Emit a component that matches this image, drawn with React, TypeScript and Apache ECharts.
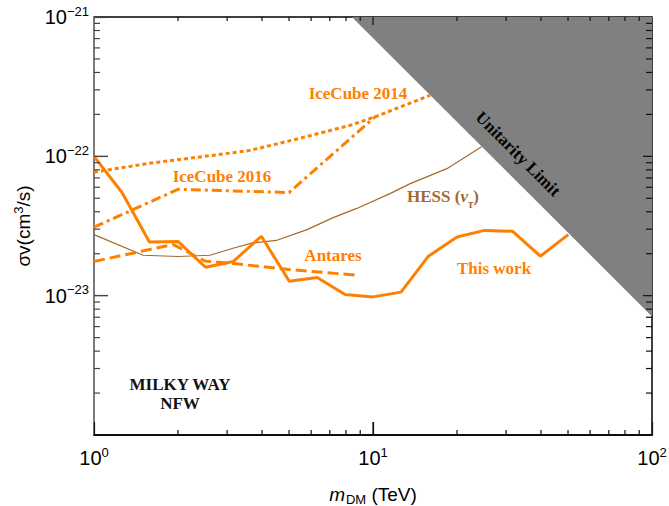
import React, { useEffect, useRef } from 'react';
import * as echarts from 'echarts';

// ---------- data (mass in TeV, <sigma v> in cm^3/s) ----------
const thisWorkMass = [1, 1.26, 1.58, 2.0, 2.51, 3.16, 3.98, 5.01, 6.31, 7.94, 10, 12.6, 15.8, 20.0, 25.1, 31.6, 39.8, 50.1];
const thisWorkSigma = [1.0e-22, 5.5e-23, 2.43e-23, 2.45e-23, 1.6e-23, 1.76e-23, 2.67e-23, 1.27e-23, 1.35e-23, 1.02e-23, 9.8e-24, 1.06e-23, 1.92e-23, 2.64e-23, 2.94e-23, 2.9e-23, 1.92e-23, 2.74e-23];

const hessMass = [1, 1.5, 2.0, 2.6, 3.15, 3.7, 4.5, 5.8, 7.2, 8.7, 11.5, 13.6, 18.4, 24.5];
const hessSigma = [2.74e-23, 1.95e-23, 1.91e-23, 1.95e-23, 2.19e-23, 2.39e-23, 2.49e-23, 2.98e-23, 3.63e-23, 4.21e-23, 5.4e-23, 6.37e-23, 8.16e-23, 1.17e-22];

const iceCube2014Mass = [1, 1.6, 2.5, 3.6, 5.5, 8.3, 10.3, 16];
const iceCube2014Sigma = [7.7e-23, 8.95e-23, 1.0e-22, 1.1e-22, 1.35e-22, 1.67e-22, 1.94e-22, 2.74e-22];

const iceCube2016Mass = [1, 2, 5, 10.2];
const iceCube2016Sigma = [3.1e-23, 5.8e-23, 5.5e-23, 1.93e-22];

const antaresMass = [1, 1.92, 2.5, 3.16, 5.0, 8.9];
const antaresSigma = [1.76e-23, 2.33e-23, 1.77e-23, 1.7e-23, 1.54e-23, 1.4e-23];

const unitarityMass = [8.4, 100];
const unitaritySigma = [1e-21, 7.1e-24];

const xRange = [1, 100];
const yRange = [1e-24, 1e-21];

// ---------- styling ----------
const ORANGE = '#FF8000';
const BROWN = '#A5692F';
const SANS = '"Liberation Sans", Arial, Helvetica, sans-serif';
const SERIF = '"Liberation Serif", "Times New Roman", serif';

const zip = (xs: number[], ys: number[]) => xs.map((x, i) => [x, ys[i]]);

// tick positions of a log axis: [value, isMajor]
const logTicks = (lo: number, hi: number) => {
  const out: number[][] = [];
  const e0 = Math.round(Math.log10(lo));
  const e1 = Math.round(Math.log10(hi));
  for (let e = e0; e < e1; e++) {
    const base = Math.pow(10, e);
    if (e > e0) out.push([base, 1]);
    for (let k = 2; k <= 9; k++) out.push([k * base, 0]);
  }
  return out;
};

const supLabel = (v: number) => {
  const e = Math.round(Math.log10(v));
  const s = e < 0 ? '\u2212' + Math.abs(e) : String(e);
  return `{b|10}{s|${s}}`;
};

const tickRich = {
  b: { fontSize: 20, fontFamily: SANS, color: '#000', lineHeight: 20, verticalAlign: 'bottom' },
  s: { fontSize: 13, fontFamily: SANS, color: '#000', lineHeight: 13, padding: [0, 0, 12, 0] },
};

const textGraphics: any[] = [
  {
    type: 'text', x: 358, y: 93, z: 100,
    style: { text: 'IceCube 2014', font: `bold 17px ${SERIF}`, fill: ORANGE, align: 'center', verticalAlign: 'middle' },
  },
  {
    type: 'text', x: 222, y: 176, z: 100,
    style: { text: 'IceCube 2016', font: `bold 17px ${SERIF}`, fill: ORANGE, align: 'center', verticalAlign: 'middle' },
  },
  {
    type: 'text', x: 333, y: 255, z: 100,
    style: { text: 'Antares', font: `bold 17px ${SERIF}`, fill: ORANGE, align: 'center', verticalAlign: 'middle' },
  },
  {
    type: 'text', x: 494, y: 268, z: 100,
    style: { text: 'This work', font: `bold 17px ${SERIF}`, fill: ORANGE, align: 'center', verticalAlign: 'middle' },
  },
  {
    type: 'text', x: 443, y: 198, z: 100,
    style: {
      text: '{a|HESS (}{n|\u03bd}{t|\u03c4}{a|)}',
      align: 'center', verticalAlign: 'middle',
      rich: {
        a: { font: `bold 17px ${SERIF}`, fill: BROWN, color: BROWN, lineHeight: 20, verticalAlign: 'top' },
        n: { font: `italic bold 17px ${SERIF}`, fill: BROWN, color: BROWN, lineHeight: 20, verticalAlign: 'top' },
        t: { font: `italic bold 12px ${SERIF}`, fill: BROWN, color: BROWN, lineHeight: 12, padding: [10, 0, 0, 0], verticalAlign: 'top' },
      },
    },
  },
  {
    type: 'text', x: 518, y: 154, z: 100, rotation: -Math.PI / 4,
    style: { text: 'Unitarity Limit', font: `bold 17px ${SERIF}`, fill: '#000', align: 'center', verticalAlign: 'middle' },
  },
  {
    type: 'text', x: 180, y: 384, z: 100,
    style: { text: 'MILKY WAY', font: `bold 17px ${SERIF}`, fill: '#111', align: 'center', verticalAlign: 'middle' },
  },
  {
    type: 'text', x: 180, y: 403, z: 100,
    style: { text: 'NFW', font: `bold 17px ${SERIF}`, fill: '#111', align: 'center', verticalAlign: 'middle' },
  },
  {
    type: 'text', x: 23, y: 226, z: 100, rotation: Math.PI / 2,
    style: {
      text: '{a|\u03c3v(cm}{s|3}{a|/s)}',
      align: 'center', verticalAlign: 'middle',
      rich: {
        a: { fontSize: 19, fontFamily: SANS, fill: '#000', color: '#000', lineHeight: 19, verticalAlign: 'bottom' },
        s: { fontSize: 13, fontFamily: SANS, fill: '#000', color: '#000', lineHeight: 13, padding: [0, 0, 10, 0] },
      },
    },
  },
  {
    type: 'text', x: 373, y: 494, z: 100,
    style: {
      text: '{i|m}{d|DM}{a| (TeV)}',
      align: 'center', verticalAlign: 'middle',
      rich: {
        i: { fontSize: 19, fontFamily: SANS, fontStyle: 'italic', fill: '#000', color: '#000', lineHeight: 19, verticalAlign: 'top' },
        a: { fontSize: 19, fontFamily: SANS, fill: '#000', color: '#000', lineHeight: 19, verticalAlign: 'top' },
        d: { fontSize: 13, fontFamily: SANS, fill: '#000', color: '#000', lineHeight: 13, padding: [8, 0, 0, 1], verticalAlign: 'top' },
      },
    },
  },
];

// grid geometry
const W = 669, H = 506;
const G = { left: 94, right: 17, top: 17, bottom: 71 };

// tick-mark decorations for all four sides of the frame (log-spaced like the axes)
const buildTicks = () => {
  const gx0 = G.left, gx1 = W - G.right, gy0 = G.top, gy1 = H - G.bottom;
  const lx0 = Math.log10(xRange[0]), lx1 = Math.log10(xRange[1]);
  const ly0 = Math.log10(yRange[0]), ly1 = Math.log10(yRange[1]);
  const toX = (v: number) => gx0 + ((Math.log10(v) - lx0) / (lx1 - lx0)) * (gx1 - gx0);
  const toY = (v: number) => gy1 - ((Math.log10(v) - ly0) / (ly1 - ly0)) * (gy1 - gy0);
  const els: any[] = [];
  const vTick = (x: number, y: number, len: number, c: string) =>
    els.push({ type: 'rect', z: 90, silent: true, shape: { x: x - 0.6, y: len > 0 ? y : y + len, width: 1.2, height: Math.abs(len) }, style: { fill: c } });
  const hTick = (x: number, y: number, len: number, c: string) =>
    els.push({ type: 'rect', z: 90, silent: true, shape: { x: len > 0 ? x : x + len, y: y - 0.6, width: Math.abs(len), height: 1.2 }, style: { fill: c } });
  logTicks(xRange[0], xRange[1]).forEach(([v, major]) => {
    const x = toX(v);
    vTick(x, gy0, major ? 8 : 4, '#111');
    vTick(x, gy1, major ? -13 : -5, '#111');
  });
  logTicks(yRange[0], yRange[1]).forEach(([v, major]) => {
    const y = toY(v);
    hTick(gx1, y, major ? -9 : -6, '#111');
    hTick(gx0, y, major ? 14 : 6, '#444');
  });
  return els;
};

export default function App() {
  const ref = useRef<HTMLDivElement>(null);

  useEffect(() => {
    if (!ref.current) return;
    const chart = echarts.init(ref.current, undefined, { renderer: 'svg', width: W, height: H });

    const option: any = {
      animation: false,
      backgroundColor: '#fff',
      grid: {
        ...G, containLabel: false, outerBoundsMode: 'none',
        show: true, borderColor: '#000', borderWidth: 1.5, backgroundColor: 'transparent',
      },
      xAxis: {
        type: 'log', logBase: 10, min: xRange[0], max: xRange[1],
        axisLine: { show: true, onZero: false, lineStyle: { color: '#000', width: 1.5 } },
        axisTick: { show: true, inside: true, length: 13, lineStyle: { color: '#111', width: 1.2 } },
        axisLabel: { formatter: supLabel, rich: tickRich, margin: 13 },
        splitLine: { show: false },
      },
      yAxis: {
        type: 'log', logBase: 10, min: yRange[0], max: yRange[1],
        axisLine: { show: true, onZero: false, lineStyle: { color: '#7a7a7a', width: 2 } },
        axisTick: { show: true, inside: true, length: 14, lineStyle: { color: '#444', width: 1.2 } },
        axisLabel: { formatter: supLabel, rich: tickRich, margin: 5 },
        splitLine: { show: false },
      },
      series: [
        {
          name: 'HESS', type: 'line', symbol: 'none', z: 2,
          data: zip(hessMass, hessSigma),
          lineStyle: { color: BROWN, width: 1.2 },
        },
        {
          name: 'IceCube 2014', type: 'line', symbol: 'none', z: 3,
          data: zip(iceCube2014Mass, iceCube2014Sigma),
          lineStyle: { color: ORANGE, width: 3, type: [4, 3] },
        },
        {
          name: 'IceCube 2016', type: 'line', symbol: 'none', z: 3,
          data: zip(iceCube2016Mass, iceCube2016Sigma),
          lineStyle: { color: ORANGE, width: 3, type: [10, 4, 3, 4] },
        },
        {
          name: 'Antares', type: 'line', symbol: 'none', z: 3,
          data: zip(antaresMass, antaresSigma),
          lineStyle: { color: ORANGE, width: 3, type: [11, 5] },
        },
        {
          name: 'This work', type: 'line', symbol: 'none', z: 4,
          data: zip(thisWorkMass, thisWorkSigma),
          lineStyle: { color: ORANGE, width: 3 },
        },
        {
          name: 'Unitarity Limit', type: 'custom', z: 6,
          data: [[unitarityMass[0], unitaritySigma[0], unitarityMass[1], unitaritySigma[1]]],
          encode: { x: [0, 2], y: [1, 3] },
          renderItem: (params: any, api: any) => {
            const p1 = api.coord([api.value(0), api.value(1)]);
            const p2 = api.coord([api.value(2), api.value(1)]);
            const p3 = api.coord([api.value(2), api.value(3)]);
            return {
              type: 'polygon',
              shape: { points: [p1, p2, p3] },
              style: { fill: '#808080', stroke: 'none' },
            };
          },
        },
      ],
      graphic: [...textGraphics, ...buildTicks()],
    };

    chart.setOption(option);
    return () => chart.dispose();
  }, []);

  return <div ref={ref} style={{ position: 'absolute', left: 0, top: 0, width: W, height: H }} />;
}
